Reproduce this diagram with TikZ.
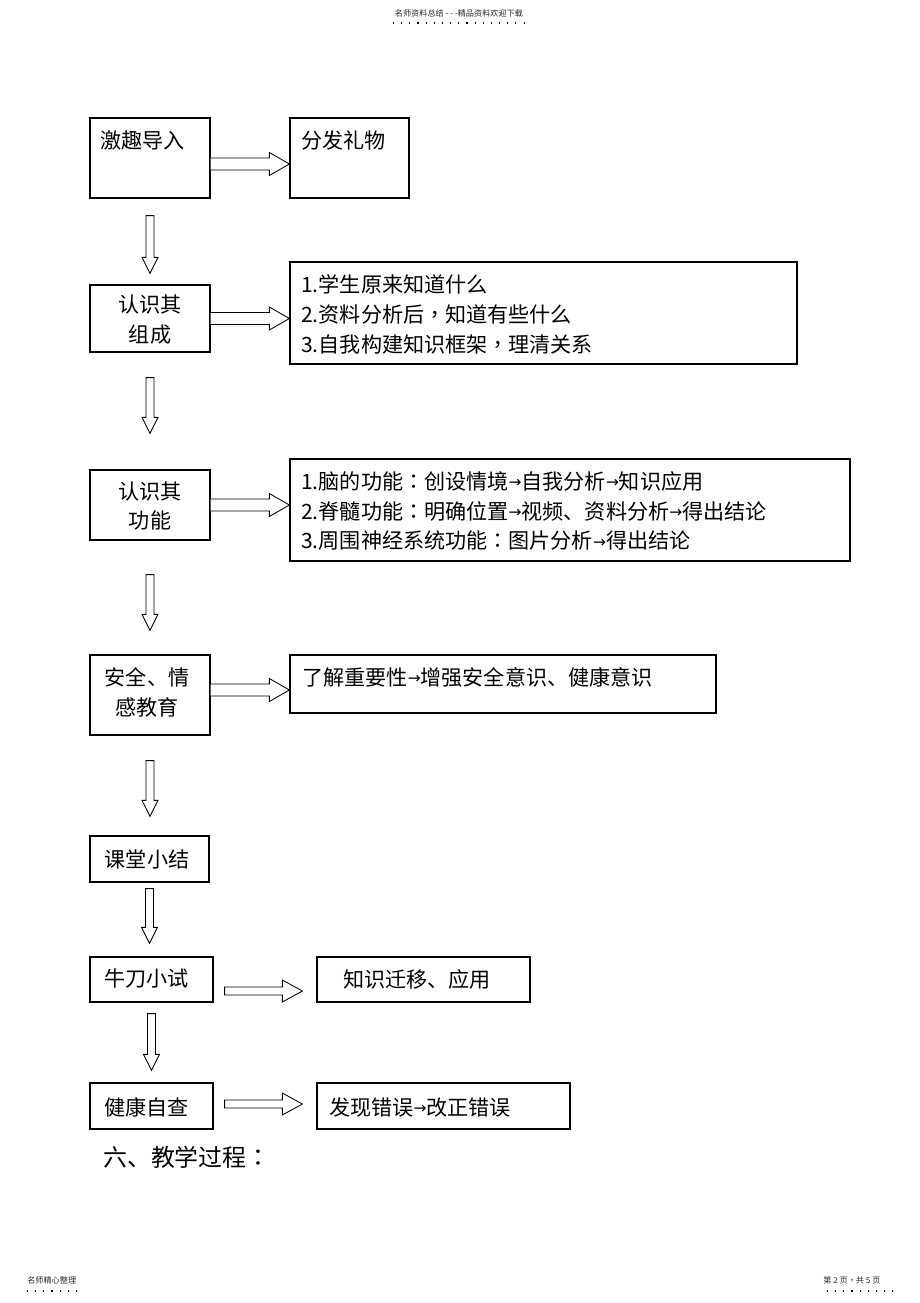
\documentclass[tikz,border=0pt]{standalone}
\usepackage{fontspec}
\setmainfont{Noto Sans CJK SC}
\newfontfamily\symfont{DejaVu Sans}
\newfontfamily\tcfont{Noto Sans CJK TC}
\usetikzlibrary{calc,fit}

% small arrow inside the texts
\newcommand{\ra}{{\symfont\fontsize{11}{11}\selectfont\raisebox{0.8pt}{→}}}
% centred punctuation
\newcommand{\cp}[1]{{\tcfont #1}}

% hollow arrow to the right: [end] start, tip, shaft half, head half
\newcommand{\rarrow}[5][]{%
  \draw[hollow] ($(#2)+(0,-#4)$) -- ($(#3)+(-20,-#4)$) -- ($(#3)+(-20,-#5)$) -- (#3)
    -- ($(#3)+(-20,#5)$) -- ($(#3)+(-20,#4)$) -- ($(#2)+(0,#4)$) #1;}
% hollow arrow downwards: top, tip
\newcommand{\darrow}[2]{%
  \draw[hollow] ($(#1)+(-4,0)$) -- ($(#2)+(-4,-16)$) -- ($(#2)+(-8,-16)$) -- (#2)
    -- ($(#2)+(8,-16)$) -- ($(#2)+(4,-16)$) -- ($(#1)+(4,0)$) -- cycle;}

\tikzset{
  box/.style={draw, line width=0.9pt, inner sep=0pt},
  txt/.style={inner sep=0pt, font=\fontsize{15}{21.3}\selectfont},
  tiny/.style={inner sep=0pt, text=black!85, font=\fontsize{5.8}{6}\selectfont},
  hollow/.style={draw, line width=0.6pt, fill=white},
  dots/.style={line width=0.8pt, dash pattern=on 0.8pt off 5pt}
}

\begin{document}
\begin{tikzpicture}[x=0.025cm, y=-0.025cm]
\useasboundingbox (0,0) rectangle (920,1303);

% header and footer
\node[tiny] (head) at (459,13) {名师资料总结 - - -精品资料欢迎下载};
\draw[dots] (393,23) -- (527,23);
\node[tiny, anchor=west] (footl) at (27,1280) {名师精心整理};
\draw[dots] (27,1291) -- (78,1291);
\node[tiny, anchor=west] (footr) at (823,1280) {第 2 页\cp{，}共 5 页};
\draw[dots] (827,1291) -- (893,1291);

% left column
\node[box, fit={(90,118) (210,198)}] (jq) {};
\node[box, fit={(90,285) (210,352)}] (zc) {};
\node[box, fit={(90,470) (210,540)}] (gn) {};
\node[box, fit={(90,655) (210,735)}] (aq) {};
\node[box, fit={(90,836) (209,882)}] (xj) {};
\node[box, fit={(90,957) (213,1002)}] (nd) {};
\node[box, fit={(90,1083) (213,1129)}] (jk) {};

\node[txt, anchor=west] (jqt) at (100,140) {激趣导入};
\node[txt, align=center] (zct) at (150,320) {认识其\\组成};
\node[txt, align=center] (gnt) at (150,506) {认识其\\功能};
\node[txt, align=center] (aqt) at (147,692) {安全、情\\感教育};
\node[txt] (xjt) at (147,859) {课堂小结};
\node[txt, anchor=west] (ndt) at (104,979) {牛刀小试};
\node[txt, anchor=west] (jkt) at (104,1107) {健康自查};

% right column
\node[box, fit={(290,118) (409,198)}] (ff) {};
\node[box, fit={(290,262) (797,364)}] (zcr) {};
\node[box, fit={(290,459) (850,561)}] (gnr) {};
\node[box, fit={(290,655) (716,713)}] (aqr) {};
\node[box, fit={(317,957) (530,1002)}] (ndr) {};
\node[box, fit={(317,1083) (570,1129)}] (jkr) {};

\node[txt, anchor=west] (fft) at (301,140) {分发礼物};
\node[txt, anchor=west, align=left] (zcrt) at (301,314)
  {1.学生原来知道什么\\2.资料分析后\cp{，}知道有些什么\\3.自我构建知识框架\cp{，}理清关系};
\node[txt, anchor=west, align=left] (gnrt) at (301,511)
  {1.脑的功能\cp{：}创设情境\ra 自我分析\ra 知识应用\\
   2.脊髓功能\cp{：}明确位置\ra 视频、资料分析\ra 得出结论\\
   3.周围神经系统功能\cp{：}图片分析\ra 得出结论};
\node[txt, anchor=west] (aqrt) at (302,677) {了解重要性\ra 增强安全意识、健康意识};
\node[txt, anchor=west] (ndrt) at (343,979) {知识迁移、应用};
\node[txt, anchor=west] (jkrt) at (329,1107) {发现错误\ra 改正错误};

\node[inner sep=0pt, anchor=west, font=\fontsize{17}{20}\selectfont] (title)
  at (103,1157) {六、教学过程\cp{：}};

% arrows to the right
\coordinate (r1a) at ($(jq.east)+(0,6)$);   \coordinate (r1b) at (r1a -| ff.west);
\coordinate (r2a) at (zc.east);             \coordinate (r2b) at (r2a -| zcr.west);
\coordinate (r3a) at (gn.east);             \coordinate (r3b) at (r3a -| gnr.west);
\coordinate (r4a) at ($(aq.east)+(0,-5)$);  \coordinate (r4b) at (r4a -| aqr.west);
\coordinate (r5a) at ($(nd.east)+(11,11.5)$); \coordinate (r5b) at ($(r5a -| ndr.west)+(-14,0)$);
\coordinate (r6a) at ($(jk.east)+(11,-2)$);   \coordinate (r6b) at ($(r6a -| jkr.west)+(-14,0)$);
\rarrow{r1a}{r1b}{6}{11.5}
\rarrow{r2a}{r2b}{6}{11.5}
\rarrow{r3a}{r3b}{6}{11.5}
\rarrow{r4a}{r4b}{6}{11.5}
\rarrow[-- cycle]{r5a}{r5b}{4}{11}
\rarrow[-- cycle]{r6a}{r6b}{4}{11}

% arrows downwards
\foreach \a/\b/\s/\e [count=\i] in {jq/zc/17/11, zc/gn/25/36, gn/aq/34/24,
    aq/xj/25/19, xj/nd/6/13, nd/jk/11/12} {
  \coordinate (d\i a) at ($(\a.south)+(0,\s)$);
  \coordinate (d\i b) at ($(d\i a |- \b.north)+(0,-\e)$);
  \darrow{d\i a}{d\i b}
}
\end{tikzpicture}
\end{document}
